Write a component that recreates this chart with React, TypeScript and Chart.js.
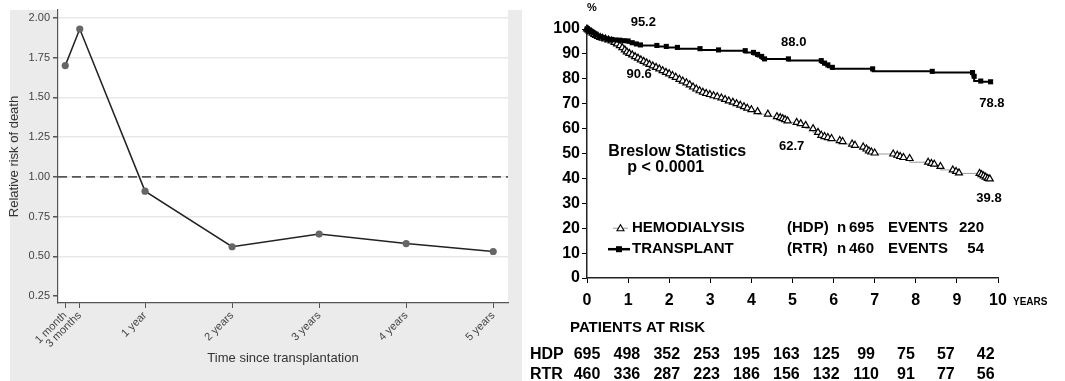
import React, { useEffect, useRef } from 'react';
import { Chart, registerables } from 'chart.js';

Chart.register(...registerables);

// ---------- Left chart: relative risk of death ----------
const riskTimeYears = [1 / 12, 0.25, 1, 2, 3, 4, 5];
const riskTimeLabels = ['1 month', '3 months', '1 year', '2 years', '3 years', '4 years', '5 years'];
const relativeRisk = [1.7, 1.93, 0.91, 0.56, 0.64, 0.58, 0.53];
const riskYTicks = [0.25, 0.5, 0.75, 1.0, 1.25, 1.5, 1.75, 2.0];
const referenceRisk = 1.0;

// ---------- Right chart: Kaplan-Meier survival ----------
const rtrTimes = [0, 0.05, 0.1, 0.15, 0.2, 0.3, 0.4, 0.5, 0.6, 0.7, 0.8, 0.9, 1.0, 1.1, 1.2, 1.3, 1.7, 1.93, 2.2, 2.75, 3.2, 3.85, 4.05, 4.15, 4.25, 4.32, 4.9, 5.7, 5.78, 5.86, 5.97, 6.95, 8.4, 9.38, 9.42, 9.58, 9.82];
const rtrSurvival = [100, 99.5, 99, 98.5, 98, 97, 96.5, 96, 95.8, 95.6, 95.5, 95.3, 95.2, 94.5, 94, 93.6, 93.4, 93, 92.6, 92.1, 91.6, 91.3, 90.6, 89.8, 89, 88, 88, 87.3, 86.3, 85.6, 84.6, 84.0, 83.0, 82.5, 81, 79.1, 78.8];

const hdpTimes = [0, 0.03, 0.06, 0.1, 0.14, 0.18, 0.22, 0.27, 0.32, 0.38, 0.45, 0.52, 0.6, 0.67, 0.73, 0.8, 0.86, 0.92, 0.97, 1.03, 1.1, 1.17, 1.24, 1.31, 1.38, 1.45, 1.52, 1.6, 1.68, 1.76, 1.84, 1.92, 2.0, 2.08, 2.16, 2.25, 2.33, 2.42, 2.5, 2.58, 2.66, 2.74, 2.82, 2.9, 2.99, 3.08, 3.17, 3.27, 3.36, 3.45, 3.55, 3.64, 3.73, 3.82, 3.9, 4.0, 4.15, 4.4, 4.62, 4.7, 4.76, 4.82, 4.88, 5.1, 5.2, 5.32, 5.5, 5.62, 5.7, 5.78, 5.86, 5.95, 6.15, 6.22, 6.45, 6.52, 6.72, 6.8, 6.86, 6.92, 7.0, 7.45, 7.55, 7.62, 7.7, 7.85, 8.3, 8.38, 8.45, 8.6, 8.9, 8.98, 9.05, 9.55, 9.6, 9.65, 9.7, 9.75, 9.8];
const hdpSurvival = [100, 99.6, 99.2, 98.8, 98.3, 97.8, 97.4, 97, 96.6, 96.3, 96, 95.6, 95.2, 94.6, 94, 93.3, 92.5, 91.6, 90.8, 90.2, 89.6, 88.9, 88.3, 87.6, 87, 86.4, 85.8, 85.2, 84.6, 84, 83.3, 82.6, 82, 81.3, 80.6, 79.8, 79.1, 78.4, 77.6, 76.7, 75.9, 75.2, 74.6, 74.1, 73.7, 73.2, 72.8, 72.3, 71.7, 71.1, 70.6, 70, 69.4, 68.8, 68.2, 67.6, 66.8, 65.8, 64.8, 64.4, 64, 63.6, 63.1, 62.5, 62, 61.3, 60, 58.5, 57.3, 56.8, 56.4, 56, 55.2, 54.8, 53.8, 53.3, 52.6, 51.8, 51, 50.6, 50.2, 49.8, 49.3, 48.8, 48.4, 48, 46.5, 46, 45.7, 44.8, 43.4, 42.8, 42.2, 42, 41.5, 41, 40.5, 40, 39.8];

const yearTicks = [0, 1, 2, 3, 4, 5, 6, 7, 8, 9, 10];
const hdpAtRisk = [695, 498, 352, 253, 195, 163, 125, 99, 75, 57, 42];
const rtrAtRisk = [460, 336, 287, 223, 186, 156, 132, 110, 91, 77, 56];

const survivalLabels = [
  { text: '95.2', t: 1.37, v: 102.8 },
  { text: '88.0', t: 5.03, v: 94.8 },
  { text: '90.6', t: 1.27, v: 81.9 },
  { text: '78.8', t: 9.85, v: 70.3 },
  { text: '62.7', t: 4.98, v: 53.0 },
  { text: '39.8', t: 9.78, v: 32.1 },
];

const legendRows = [
  { name: 'HEMODIALYSIS', abbr: '(HDP)', n: '695', events: '220', style: 'hdp' },
  { name: 'TRANSPLANT', abbr: '(RTR)', n: '460', events: '54', style: 'rtr' },
];

const SANS = '"Liberation Sans", Arial, Helvetica, sans-serif';

function RiskChart() {
  const ref = useRef<HTMLCanvasElement | null>(null);
  useEffect(() => {
    if (!ref.current) return;
    const panelPlugin = {
      id: 'panelBg',
      beforeDraw(chart: any) {
        const { ctx, chartArea: a } = chart;
        ctx.save();
        ctx.fillStyle = '#ebebeb';
        ctx.fillRect(10, 10, chart.width - 10, chart.height - 10);
        ctx.fillStyle = '#ffffff';
        ctx.fillRect(a.left, a.top, a.right - a.left, a.bottom - a.top);
        ctx.restore();
      },
      beforeDatasetsDraw(chart: any) {
        const { ctx, chartArea: a, scales } = chart;
        const y = scales.y.getPixelForValue(referenceRisk);
        ctx.save();
        ctx.strokeStyle = '#555555';
        ctx.lineWidth = 1.6;
        ctx.setLineDash([9, 5]);
        ctx.beginPath();
        ctx.moveTo(a.left, y);
        ctx.lineTo(a.right, y);
        ctx.stroke();
        ctx.restore();
      },
    };
    const chart = new Chart(ref.current, {
      type: 'line',
      data: {
        datasets: [
          {
            data: riskTimeYears.map((x, i) => ({ x, y: relativeRisk[i] })),
            borderColor: '#222222',
            borderWidth: 1.5,
            pointRadius: 3.6,
            pointBackgroundColor: '#666666',
            pointBorderColor: '#666666',
            pointBorderWidth: 0,
            tension: 0,
            clip: false,
          } as any,
        ],
      },
      options: {
        animation: false,
        responsive: false,
        devicePixelRatio: 1,
        layout: { padding: { top: 10, right: 14, left: 0, bottom: 0 } },
        plugins: { legend: { display: false }, tooltip: { enabled: false } },
        scales: {
          x: {
            type: 'linear',
            min: 0,
            max: 5.17,
            afterBuildTicks: (s: any) => {
              s.ticks = riskTimeYears.map((v) => ({ value: v }));
            },
            afterFit: (s: any) => {
              s.height = 78;
            },
            ticks: {
              autoSkip: false,
              minRotation: 45,
              maxRotation: 45,
              padding: 1,
              color: '#444444',
              font: { family: SANS, size: 11 },
              callback: (_v: any, i: number) => riskTimeLabels[i],
            },
            grid: { drawOnChartArea: false, tickLength: 5, tickColor: '#555555' },
            border: { color: '#555555', width: 1.2 },
            title: {
              display: true,
              text: 'Time since transplantation',
              color: '#333333',
              font: { family: SANS, size: 13 },
              padding: { top: 0, bottom: 15 },
            },
          },
          y: {
            min: 0.206,
            max: 2.05,
            afterBuildTicks: (s: any) => {
              s.ticks = riskYTicks.map((v) => ({ value: v }));
            },
            afterFit: (s: any) => {
              s.width = 58;
            },
            ticks: {
              padding: 3,
              color: '#444444',
              font: { family: SANS, size: 11 },
              callback: (v: any) => Number(v).toFixed(2),
            },
            grid: {
              color: (c: any) => (c.tick && c.tick.value === 0.25 ? 'rgba(0,0,0,0)' : '#e8e8e8'),
              lineWidth: 1.5,
              tickLength: 5,
              tickColor: '#555555',
            },
            border: { color: '#555555', width: 1.2 },
            title: {
              display: true,
              text: 'Relative risk of death',
              color: '#333333',
              font: { family: SANS, size: 13 },
              padding: { top: 7, bottom: 0 },
            },
          },
        },
      },
      plugins: [panelPlugin],
    } as any);
    return () => chart.destroy();
  }, []);
  return <canvas ref={ref} width={522} height={381} style={{ position: 'absolute', left: 0, top: 0 }} />;
}

function SurvivalChart() {
  const ref = useRef<HTMLCanvasElement | null>(null);
  useEffect(() => {
    if (!ref.current) return;
    const textPlugin = {
      id: 'kmText',
      afterDraw(chart: any) {
        const { ctx, scales } = chart;
        const xs = scales.x;
        const ys = scales.y;
        ctx.save();
        ctx.fillStyle = '#000';
        ctx.textBaseline = 'middle';
        // % label
        ctx.font = `bold 11px ${SANS}`;
        ctx.textAlign = 'center';
        ctx.fillText('%', xs.left + 5, 8);
        // value annotations
        ctx.font = `bold 13px ${SANS}`;
        survivalLabels.forEach((l) => {
          ctx.fillText(l.text, xs.getPixelForValue(l.t), ys.getPixelForValue(l.v));
        });
        // Breslow statistics
        ctx.textAlign = 'left';
        ctx.font = `bold 16px ${SANS}`;
        ctx.fillText('Breslow Statistics', xs.getPixelForValue(0.52), ys.getPixelForValue(50.6));
        ctx.fillText('p < 0.0001', xs.getPixelForValue(0.98), ys.getPixelForValue(44.2));
        // legend
        legendRows.forEach((r, i) => {
          const y = ys.getPixelForValue(20) + i * 21;
          const lx = xs.left;
          if (r.style === 'hdp') {
            ctx.strokeStyle = '#999';
            ctx.lineWidth = 1;
            ctx.beginPath();
            ctx.moveTo(lx + 26, y);
            ctx.lineTo(lx + 41, y);
            ctx.stroke();
            ctx.fillStyle = '#fff';
            ctx.strokeStyle = '#000';
            ctx.lineWidth = 1.1;
            ctx.beginPath();
            ctx.moveTo(lx + 33.5, y - 3.5);
            ctx.lineTo(lx + 37, y + 2.5);
            ctx.lineTo(lx + 30, y + 2.5);
            ctx.closePath();
            ctx.fill();
            ctx.stroke();
          } else {
            ctx.strokeStyle = '#000';
            ctx.lineWidth = 2.5;
            ctx.beginPath();
            ctx.moveTo(lx + 21, y);
            ctx.lineTo(lx + 43, y);
            ctx.stroke();
            ctx.fillStyle = '#000';
            ctx.fillRect(lx + 29, y - 3, 6, 6);
          }
          ctx.fillStyle = '#000';
          ctx.font = `bold 15px ${SANS}`;
          ctx.textAlign = 'left';
          ctx.fillText(r.name, lx + 45, y);
          ctx.fillText(r.abbr, lx + 200, y);
          ctx.fillText('n', lx + 250, y);
          ctx.fillText(r.n, lx + 262, y);
          ctx.fillText('EVENTS', lx + 301, y);
          ctx.textAlign = 'right';
          ctx.fillText(r.events, lx + 397, y);
        });
        // YEARS
        ctx.textAlign = 'left';
        ctx.font = `bold 10px ${SANS}`;
        ctx.fillText('YEARS', xs.right + 15, ys.bottom + 24);
        // patients at risk
        ctx.font = `bold 15px ${SANS}`;
        ctx.fillText('PATIENTS AT RISK', 40, ys.bottom + 50);
        ctx.font = `bold 16px ${SANS}`;
        ctx.fillText('HDP', 0, ys.bottom + 77);
        ctx.fillText('RTR', 0, ys.bottom + 97);
        ctx.textAlign = 'center';
        yearTicks.forEach((t, i) => {
          const cx = xs.getPixelForValue(t * 0.97);
          ctx.fillText(String(hdpAtRisk[i]), cx, ys.bottom + 77);
          ctx.fillText(String(rtrAtRisk[i]), cx, ys.bottom + 97);
        });
        ctx.restore();
      },
    };
    const chart = new Chart(ref.current, {
      type: 'line',
      data: {
        datasets: [
          {
            label: 'TRANSPLANT',
            data: rtrTimes.map((x, i) => ({ x, y: rtrSurvival[i] })),
            stepped: 'after',
            borderColor: '#000',
            borderWidth: 2,
            pointStyle: 'rect',
            pointRadius: 3.6,
            pointBackgroundColor: '#000',
            pointBorderColor: '#000',
            pointBorderWidth: 0,
            clip: false,
          } as any,
          {
            label: 'HEMODIALYSIS',
            data: hdpTimes.map((x, i) => ({ x, y: hdpSurvival[i] })),
            stepped: 'after',
            borderColor: '#9a9a9a',
            borderWidth: 1,
            pointStyle: 'triangle',
            pointRadius: 4,
            pointBackgroundColor: '#fff',
            pointBorderColor: '#000',
            pointBorderWidth: 1.2,
            clip: false,
          } as any,
        ],
      },
      options: {
        animation: false,
        responsive: false,
        devicePixelRatio: 1,
        layout: { padding: { top: 29, right: 67, left: 0, bottom: 0 } },
        plugins: { legend: { display: false }, tooltip: { enabled: false } },
        scales: {
          x: {
            type: 'linear',
            min: 0,
            max: 10,
            afterBuildTicks: (s: any) => {
              s.ticks = yearTicks.map((v) => ({ value: v }));
            },
            afterFit: (s: any) => {
              s.height = 103;
            },
            ticks: {
              autoSkip: false,
              maxRotation: 0,
              padding: 8,
              color: '#000',
              font: { family: SANS, size: 16, weight: 'bold' },
            },
            grid: { drawOnChartArea: false, tickLength: 5, tickColor: '#000' },
            border: { color: '#222', width: 1.5 },
          },
          y: {
            min: 0,
            max: 100,
            afterBuildTicks: (s: any) => {
              s.ticks = [0, 10, 20, 30, 40, 50, 60, 70, 80, 90, 100].map((v) => ({ value: v }));
            },
            afterFit: (s: any) => {
              s.width = 57;
            },
            ticks: {
              padding: 2,
              color: '#000',
              font: { family: SANS, size: 16, weight: 'bold' },
            },
            grid: { drawOnChartArea: false, tickLength: 5, tickColor: '#000' },
            border: { color: '#222', width: 1.5 },
          },
        },
      },
      plugins: [textPlugin],
    } as any);
    return () => chart.destroy();
  }, []);
  return <canvas ref={ref} width={535} height={381} style={{ position: 'absolute', left: 530, top: 0 }} />;
}

export default function App() {
  return (
    <div style={{ position: 'fixed', left: 0, top: 0, width: 1065, height: 381, background: '#fff', overflow: 'hidden' }}>
      <RiskChart />
      <SurvivalChart />
    </div>
  );
}
